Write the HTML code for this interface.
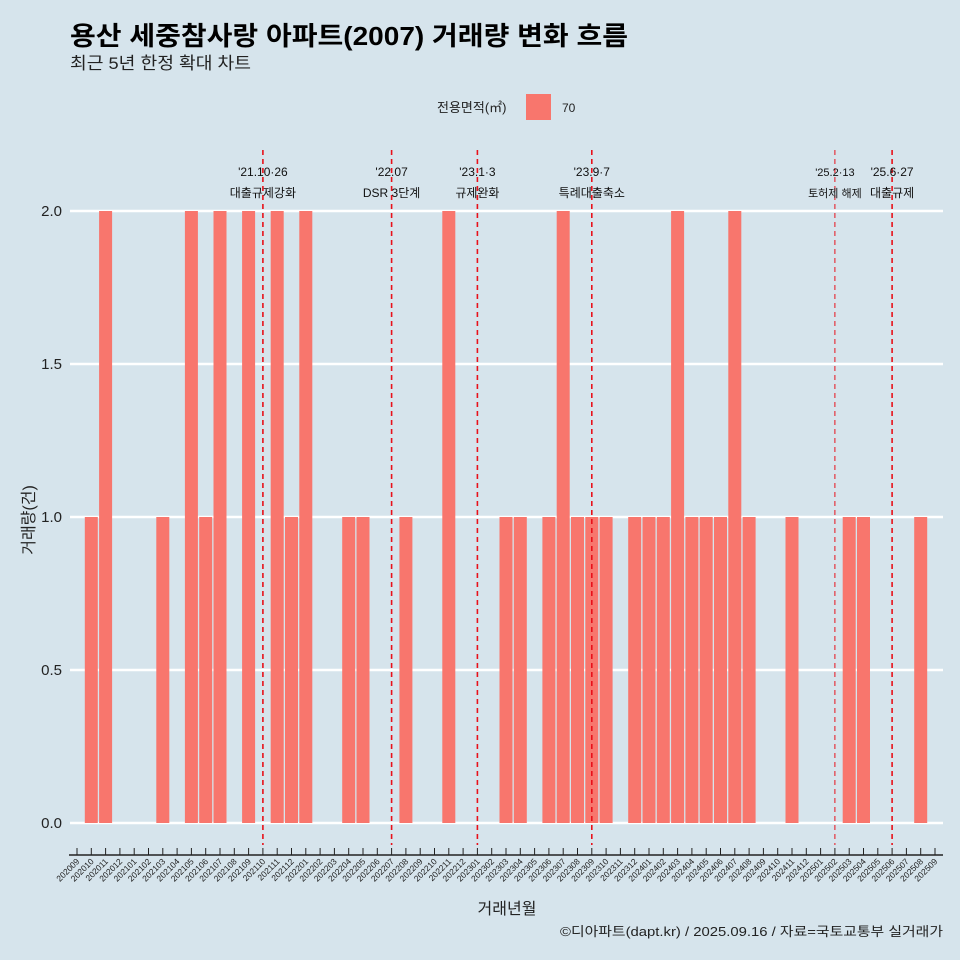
<!DOCTYPE html>
<html><head><meta charset="utf-8"><style>
body{margin:0;background:#d6e4ec;}
svg{display:block;font-family:"Liberation Sans","Noto Sans CJK KR",sans-serif;}
</style></head><body>
<svg id="c" width="960" height="960" viewBox="0 0 960 960">
<rect width="960" height="960" fill="#d6e4ec"/>
<text x="70" y="45" font-size="26" font-weight="bold" fill="#000" textLength="558" lengthAdjust="spacingAndGlyphs">용산 세중참사랑 아파트(2007) 거래량 변화 흐름</text>
<text x="70" y="69" font-size="17" fill="#222" textLength="181" lengthAdjust="spacingAndGlyphs">최근 5년 한정 확대 차트</text>
<g>
<text x="437" y="112" font-size="13" fill="#222">전용면적(㎡)</text>
<rect x="526" y="94" width="25" height="26" fill="#f8766d"/>
<text x="562" y="112" font-size="12" fill="#222">70</text>
</g>
<g id="grid"></g><g id="bars"></g><g id="events"></g><g id="xaxis"></g>
<text transform="translate(34,520) rotate(-90)" text-anchor="middle" font-size="16" fill="#222">거래량(건)</text>
<text x="507" y="914" text-anchor="middle" font-size="16" fill="#222">거래년월</text>
<text x="560" y="936" font-size="13" fill="#222" textLength="383" lengthAdjust="spacingAndGlyphs">©디아파트(dapt.kr) / 2025.09.16 / 자료=국토교통부 실거래가</text>
</svg>
<script>
const months=[];for(let y=2020,m=9;y*100+m<=202509;){months.push(''+y+(m<10?'0':'')+m);m++;if(m>12){m=1;y++;}}
const barMonths=['202010','202011','202103','202105','202106','202107','202109','202111','202112','202201','202204','202205','202208','202211','202303','202304','202306','202307','202308','202309','202310','202312','202401','202402','202403','202404','202405','202406','202407','202408','202411','202503','202504','202508'];
const barValues=[1,2,1,2,1,2,2,2,1,2,1,1,1,2,1,1,1,2,1,1,1,1,1,1,2,1,1,1,2,1,1,1,1,1];
const yTicks=[0,0.5,1,1.5,2];
const eventMonths=['202110','202207','202301','202309','202502','202506'];
const eventDates=["'21.10·26","'22.07","'23.1·3","'23.9·7","'25.2·13","'25.6·27"];
const eventLabels=['대출규제강화','DSR 3단계','규제완화','특례대출축소','토허제 해제','대출규제'];
const NS='http://www.w3.org/2000/svg';
function mk(t,a,p){const e=document.createElementNS(NS,t);for(const k in a)e.setAttribute(k,a[k]);p.appendChild(e);return e;}
const x=m=>77+months.indexOf(m)*(858/(months.length-1));
const y=v=>823-v*306;
const grid=document.getElementById('grid');
yTicks.forEach(v=>{
 const l=mk('line',{x1:70,x2:943,y1:y(v),y2:y(v),stroke:'#fff','stroke-width':2.5},grid);
 
 
 const t=mk('text',{x:62,y:y(v)+5,'text-anchor':'end','font-size':15,fill:'#222'},grid);
 
 
 t.textContent=v.toFixed(1);
});
const bars=document.getElementById('bars');
barMonths.forEach((m,i)=>{
 const r=mk('rect',{x:x(m)-6.5,y:y(barValues[i]),width:13,height:y(0)-y(barValues[i]),fill:'#f8766d'},bars);
 
 
});
const ev=document.getElementById('events');
eventMonths.forEach((m,i)=>{
 const thin=m==='202502';
 const l=mk('line',{x1:x(m),x2:x(m),y1:150,y2:845,stroke:'#e8111a','stroke-width':thin?1:1.6,'stroke-dasharray':'5,4'},ev);
 
 
 const fs=thin?11:12;
 const d=mk('text',{x:x(m),y:176,'text-anchor':'middle','font-size':fs,fill:'#111'},ev);
 
 
 d.textContent=eventDates[i];
 const t=mk('text',{x:x(m),y:197,'text-anchor':'middle','font-size':fs,fill:'#111'},ev);
 
 
 t.textContent=eventLabels[i];
});
const xa=document.getElementById('xaxis');
const al=mk('line',{x1:69,x2:943,y1:855,y2:855,stroke:'#222','stroke-width':1.5},xa);


months.forEach(m=>{
 const t=mk('line',{x1:x(m),x2:x(m),y1:848,y2:855,stroke:'#222','stroke-width':1},xa);
 
 
 const l=mk('text',{x:0,y:0,'text-anchor':'end','font-size':8.5,fill:'#222',transform:`translate(${x(m)+3},${862}) rotate(-45)`},xa);
 
 
 l.textContent=m;
});
</script>
</body></html>
